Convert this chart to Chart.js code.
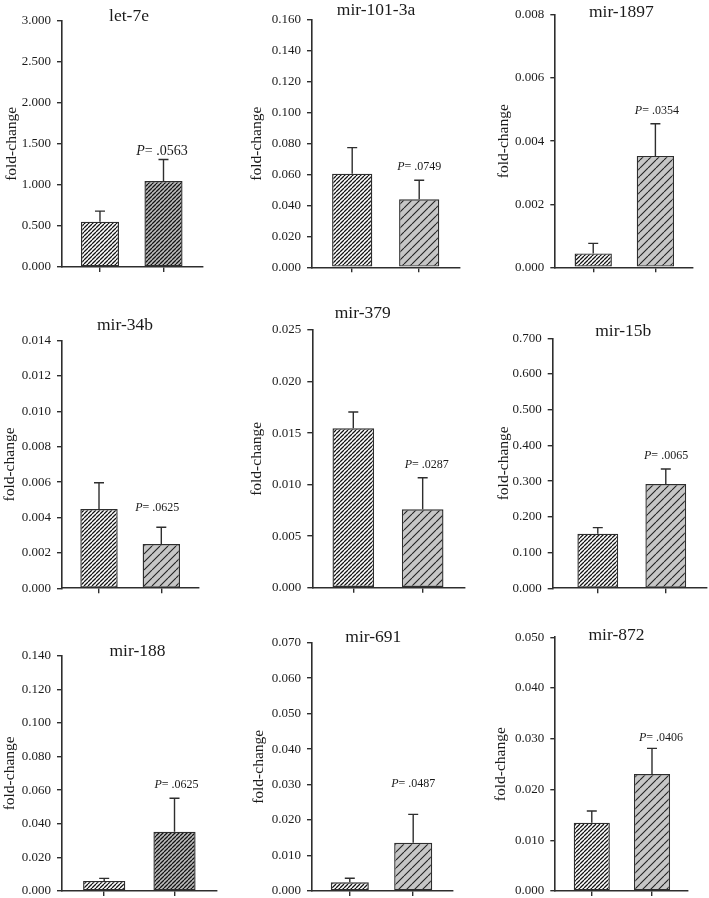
<!DOCTYPE html>
<html><head><meta charset="utf-8">
<script src="https://cdn.jsdelivr.net/npm/chart.js@4/dist/chart.umd.min.js"></script>
<style>
html,body{margin:0;padding:0;background:#fff;width:709px;height:898px;overflow:hidden;position:relative}
canvas{position:absolute}
</style></head><body>
<script>
// ---------- DATA ----------
const titles   = ['let-7e','mir-101-3a','mir-1897','mir-34b','mir-379','mir-15b','mir-188','mir-691','mir-872'];
const groups   = ['Group 1','Group 2'];
const meanA    = [0.552, 0.0606, 0.00044, 0.00448, 0.01546, 0.153, 0.0060, 0.00245, 0.01346];
const semA     = [0.128, 0.0168, 0.00032, 0.00149, 0.00159, 0.017, 0.0015, 0.00115, 0.00231];
const meanB    = [1.047, 0.0440, 0.00353, 0.00250, 0.00760, 0.292, 0.0353, 0.0136, 0.02306];
const semB     = [0.263, 0.0123, 0.00102, 0.00095, 0.00307, 0.042, 0.0199, 0.0080, 0.00504];
const pValues  = ['.0563','.0749','.0354','.0625','.0287','.0065','.0625','.0487','.0406'];
const yMax     = [3, 0.16, 0.008, 0.014, 0.025, 0.7, 0.14, 0.07, 0.05];
const yStep    = [0.5, 0.02, 0.002, 0.002, 0.005, 0.1, 0.02, 0.01, 0.01];
const yAxisLabel = 'fold-change';

// ---------- LAYOUT / STYLE ----------
const cols = [[0,236],[236,472],[472,709]];
const rows = [[0,290],[290,612],[612,925]];
const layout = [
  {L:62,   R:203,   T:20.7,  B:267,   tx:129,   ty:16,    yt:12,    pGap:8,    pDx:-1.5, pFont:14,  xMin:0.402, xMax:2.622, hatchB:'dense'},
  {L:312,  R:460,   T:20,    B:267.3, tx:376,   ty:10,    yt:257,   pGap:13.6, pDx:0,    pFont:12,  xMin:0.40,  xMax:2.609, hatchB:'sparse'},
  {L:555.3,R:692.7, T:15,    B:267.3, tx:621.3, ty:12,    yt:503.7, pGap:12.7, pDx:1.5,  pFont:12,  xMin:0.39,  xMax:2.60,  hatchB:'sparse'},
  {L:62,   R:199,   T:340.7, B:588.3, tx:125,   ty:325,   yt:10,    pGap:19,   pDx:-4,   pFont:12,  xMin:0.406, xMax:2.605, hatchB:'sparse'},
  {L:312.3,R:464.3, T:330,   B:587.7, tx:362.7, ty:313,   yt:256.7, pGap:12.7, pDx:4,    pFont:12,  xMin:0.409, xMax:2.60,  hatchB:'sparse'},
  {L:552.7,R:707,   T:338.3, B:588.3, tx:623.2, ty:331.7, yt:504.3, pGap:13.3, pDx:0.3,  pFont:12,  xMin:0.337, xMax:2.606, hatchB:'sparse'},
  {L:62,   R:216.7, T:655.7, B:891,   tx:137.5, ty:651,   yt:10,    pGap:13.3, pDx:2,    pFont:12,  xMin:0.40,  xMax:2.60,  hatchB:'dense'},
  {L:312,  R:452.7, T:642.7, B:891,   tx:373.3, ty:637.3, yt:258.7, pGap:31,   pDx:0,    pFont:12,  xMin:0.404, xMax:2.623, hatchB:'sparse'},
  {L:555.3,R:687.7, T:637.3, B:891,   tx:616.5, ty:635.7, yt:501.3, pGap:10.6, pDx:9,    pFont:12,  xMin:0.394, xMax:2.593, hatchB:'sparse'}
];
const SERIF = "'Liberation Serif','Times New Roman',serif";
const INK = '#1a1a1a';
const LINE = '#2e2e2e';

function hatch(bg, ink, s, lw){
  const c = document.createElement('canvas'); c.width = s; c.height = s;
  const g = c.getContext('2d');
  g.fillStyle = bg; g.fillRect(0,0,s,s);
  g.strokeStyle = ink; g.lineWidth = lw; g.beginPath();
  for (const k of [-s,0,s]) { g.moveTo(k, s); g.lineTo(k + s, 0); }
  g.stroke();
  return g.createPattern(c, 'repeat');
}
const patDenseWhite = hatch('#ffffff', '#141414', 4, 1.25);
const patDenseGray  = hatch('#bdbdbd', '#141414', 4, 1.25);
const patSparseGray = hatch('#c6c6c6', '#222222', 8, 1.1);

layout.forEach((p, i) => {
  const col = cols[i % 3], row = rows[Math.floor(i / 3)];
  const cv = document.createElement('canvas');
  cv.width = col[1] - col[0]; cv.height = row[1] - row[0];
  cv.style.left = col[0] + 'px'; cv.style.top = row[0] + 'px';
  document.body.appendChild(cv);

  const deco = {
    id: 'deco' + i,
    afterDatasetsDraw(chart) {
      const ctx = chart.ctx, ys = chart.scales.y;
      const meta = chart.getDatasetMeta(0);
      const means = [meanA[i], meanB[i]], sems = [semA[i], semB[i]];
      ctx.save();
      ctx.strokeStyle = LINE; ctx.lineWidth = 1.4;
      let topB = 0;
      meta.data.forEach((el, j) => {
        const yt = ys.getPixelForValue(means[j] + sems[j]);
        if (j === 1) topB = yt;
        ctx.beginPath();
        ctx.moveTo(el.x, el.y); ctx.lineTo(el.x, yt);
        ctx.moveTo(el.x - 5, yt); ctx.lineTo(el.x + 5, yt);
        ctx.stroke();
      });
      // P label
      const fI = 'italic ' + p.pFont + 'px ' + SERIF, fN = p.pFont + 'px ' + SERIF;
      ctx.font = fI; const wP = ctx.measureText('P').width;
      const rest = '= ' + pValues[i];
      ctx.font = fN; const wR = ctx.measureText(rest).width;
      const cx = meta.data[1].x + p.pDx, cy = topB - p.pGap;
      const x0 = cx - (wP + wR) / 2;
      ctx.fillStyle = INK; ctx.textBaseline = 'middle'; ctx.textAlign = 'left';
      ctx.font = fI; ctx.fillText('P', x0, cy);
      ctx.font = fN; ctx.fillText(rest, x0 + wP, cy);
      // panel title
      ctx.font = '17.5px ' + SERIF; ctx.textAlign = 'center';
      ctx.fillText(titles[i], p.tx - col[0], p.ty - row[0]);
      ctx.restore();
    }
  };

  new Chart(cv, {
    type: 'bar',
    data: {
      datasets: [{
        label: titles[i],
        data: [{x: 1, y: meanA[i]}, {x: 2, y: meanB[i]}],
        backgroundColor: [patDenseWhite, p.hatchB === 'dense' ? patDenseGray : patSparseGray],
        borderColor: LINE, borderWidth: 1.4, borderSkipped: false,
        barPercentage: 0.6, categoryPercentage: 1
      }]
    },
    options: {
      responsive: false, animation: false, devicePixelRatio: 1,
      layout: { padding: { left: 0, top: p.T - row[0], right: col[1] - p.R, bottom: 0 } },
      plugins: { legend: { display: false }, tooltip: { enabled: false }, title: { display: false } },
      scales: {
        x: {
          type: 'linear', min: p.xMin, max: p.xMax, offset: false,
          afterBuildTicks: s => { s.ticks = [{value: 1}, {value: 2}]; },
          afterFit: s => { s.height = row[1] - p.B; },
          ticks: { display: false },
          grid: { offset: false, drawOnChartArea: false, drawTicks: true, tickLength: 5, color: LINE, lineWidth: 1.4 },
          border: { color: LINE, width: 1.6 }
        },
        y: {
          min: 0, max: yMax[i],
          afterFit: s => { s.width = p.L - col[0]; },
          ticks: { stepSize: yStep[i], callback: v => Number(v).toFixed(3), color: INK, padding: 6,
                   font: { family: SERIF, size: 13 } },
          grid: { drawOnChartArea: false, drawTicks: true, tickLength: 5, color: LINE, lineWidth: 1.4 },
          border: { color: LINE, width: 1.6 },
          title: { display: true, text: yAxisLabel, color: INK,
                   font: { family: SERIF, size: 15.5, lineHeight: 1.2 },
                   padding: { top: Math.max(0, p.yt - col[0] - 9.3), bottom: 0 } }
        }
      }
    },
    plugins: [deco]
  });
});
</script>
</body></html>
